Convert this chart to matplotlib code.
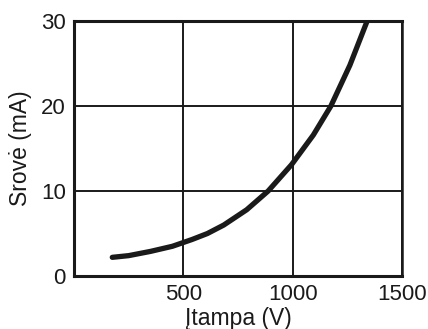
import matplotlib
matplotlib.use('Agg')
import matplotlib.pyplot as plt

# voltage (V) and current (mA)
voltage = [175, 250, 350, 450, 540, 610, 685, 790, 888, 995, 1095, 1175, 1262, 1341]
current = [2.2, 2.4, 2.9, 3.5, 4.3, 5.0, 6.0, 7.8, 10.0, 13.1, 16.6, 20.0, 24.8, 30.0]

x_ticks = [500, 1000, 1500]
y_ticks = [0, 10, 20, 30]

plt.rcParams['font.family'] = ['Liberation Sans', 'DejaVu Sans']

fig = plt.figure(figsize=(4.28, 3.29), dpi=100)
ax = fig.add_axes([0.173, 0.161, 0.766, 0.775])

ax.plot(voltage, current, color='#1a1a1a', linewidth=3.8,
        solid_capstyle='round', solid_joinstyle='round')

ax.set_xlim(0, 1500)
ax.set_ylim(0, 30)
ax.set_xticks(x_ticks)
ax.set_yticks(y_ticks)
ax.tick_params(length=0, labelsize=16, pad=6, colors='#1a1a1a')
ax.grid(True, color='#1a1a1a', linewidth=1.4)

for side in ['left', 'bottom', 'top']:
    ax.spines[side].set_linewidth(2.2)
ax.spines['right'].set_linewidth(1.8)
for s in ax.spines.values():
    s.set_color('#1a1a1a')

ax.set_xlabel('Įtampa (V)', fontsize=16.5, color='#1a1a1a')
ax.set_ylabel('Srovė (mA)', fontsize=16.5, color='#1a1a1a')
ax.xaxis.set_label_coords(0.5, -0.12)
ax.yaxis.set_label_coords(-0.128, 0.5)

# saving
fig.savefig('out.png', dpi=100)
